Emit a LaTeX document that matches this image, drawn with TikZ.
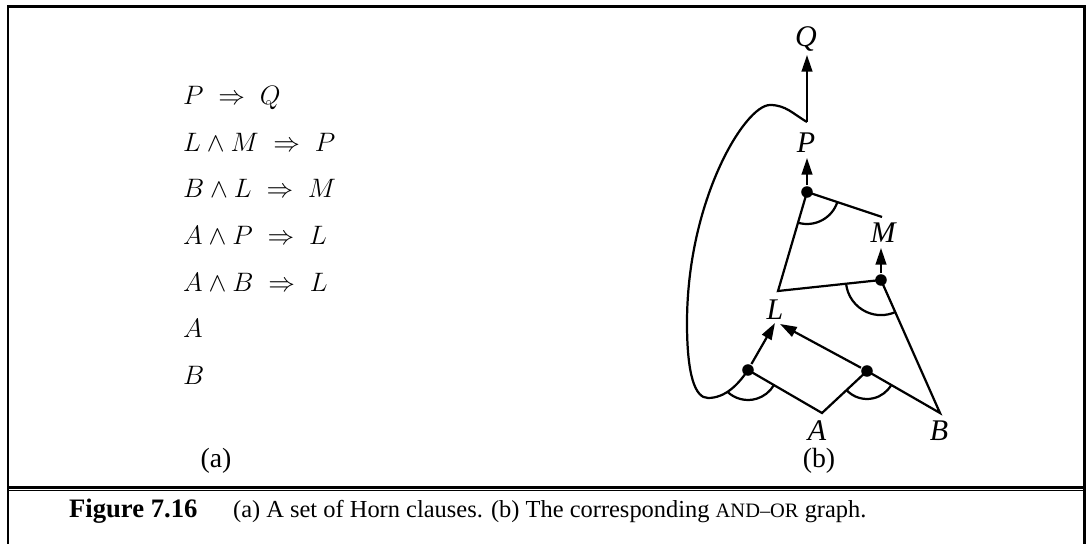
\documentclass[tikz,border=0pt]{standalone}
\usepackage[no-math]{fontspec}
\setmainfont{Liberation Serif}
\usetikzlibrary{arrows.meta, angles}

\newcommand{\smcaps}[1]{{\fontsize{9.2}{10}\selectfont #1}}

\begin{document}
\begin{tikzpicture}[
    x=0.45pt, y=0.45pt,
    line width=1pt,
    frame/.style={line width=1.2pt},
    clause/.style={anchor=base west, inner sep=0pt, font=\fontsize{12.4}{14}\selectfont},
    sym/.style={anchor=base, inner sep=0pt, font=\fontsize{13.5}{15}\selectfont\itshape},
    sub/.style={anchor=base, inner sep=0pt, font=\fontsize{12.5}{14}\selectfont},
    dot/.style={circle, fill, inner sep=0pt, minimum size=5.2pt},
    arrow/.style={-{Triangle[length=7.5pt, width=4.8pt]}},
    andarc/.style={draw, angle radius=#1}
]
    \useasboundingbox (0,0) rectangle (1088,-544);

    % frame and caption rule
    \draw[frame] (8,-544) -- (8,-6.3) -- (1084.5,-6.3) -- (1084.5,-544);
    \draw[frame] (8,-487.3) -- (1084.5,-487.3);
    \draw[line width=0.6pt] (8,-490.7) -- (1084.5,-490.7);

    % (a) the clauses
    \node[clause] (c1) at (182,-105) {$P \;\Rightarrow\; Q$};
    \node[clause] (c2) at (182,-152) {$L \wedge M \;\Rightarrow\; P$};
    \node[clause] (c3) at (182,-198) {$B \wedge L \;\Rightarrow\; M$};
    \node[clause] (c4) at (182,-245) {$A \wedge P \;\Rightarrow\; L$};
    \node[clause] (c5) at (182,-292) {$A \wedge B \;\Rightarrow\; L$};
    \node[clause] (c6) at (182,-338) {$A$};
    \node[clause] (c7) at (182,-385) {$B$};
    \node[sub] (suba) at (216,-468) {(a)};

    % (b) the graph
    \node[sym] (Q) at (806,-47) {Q};
    \node[sym] (P) at (806,-153) {P};
    \node[sym] (M) at (883,-243) {M};
    \node[sym] (L) at (775,-320) {L};
    \node[sym] (A) at (817,-441) {A};
    \node[sym] (B) at (939,-441) {B};
    \node[sub] (subb) at (819,-468) {(b)};

    \node[dot] (dP) at (807,-192) {};
    \node[dot] (dM) at (881,-280) {};
    \node[dot] (dL1) at (748,-370) {};
    \node[dot] (dL2) at (867,-371) {};

    \coordinate (top) at (807,-122);
    \coordinate (tQ) at (807,-55);
    \coordinate (tP) at (807,-158);
    \coordinate (tM) at (881,-248);
    \coordinate (tL1) at (775,-323);
    \coordinate (tL2) at (780,-324);
    \coordinate (cL) at (778,-291);
    \coordinate (cM) at (882,-217);
    \coordinate (cA) at (822,-413);
    \coordinate (cB) at (940,-413);
    \coordinate (lp) at (727,-392);

    \draw[arrow] (top) -- (tQ);
    \draw[arrow] (dP) -- (tP);
    \draw[arrow] (dM) -- (tM);
    \draw[arrow] (dL1) -- (tL1);
    \draw[arrow] (dL2) -- (tL2);

    \draw (cM) -- (dP.center) -- (cL) -- (dM.center) -- (cB) -- (dL2.center) -- (cA) -- (dL1.center);
    \draw (top) to[out=150,in=0] (770,-105)
        .. controls (745,-105) and (687,-200) .. (687,-323)
        .. controls (687,-375) and (695,-398) .. (708,-398)
        .. controls (725,-398) and (738,-385) .. (dL1.center);

    \pic[andarc=14.4pt] {angle = cL--dP--cM};
    \pic[andarc=15.8pt] {angle = cL--dM--cB};
    \pic[andarc=13.5pt] {angle = lp--dL1--cA};
    \pic[andarc=12.6pt] {angle = cA--dL2--cB};

    % caption
    \node[anchor=base west, inner sep=0pt, font=\fontsize{12}{14}\selectfont\bfseries] (fig) at (68,-518) {Figure 7.16};
    \node[anchor=base west, inner sep=0pt, font=\fontsize{11}{13}\selectfont] (cap) at (232,-518) {(a) A set of Horn clauses. (b) The corresponding \smcaps{AND--OR} graph.};
\end{tikzpicture}
\end{document}
